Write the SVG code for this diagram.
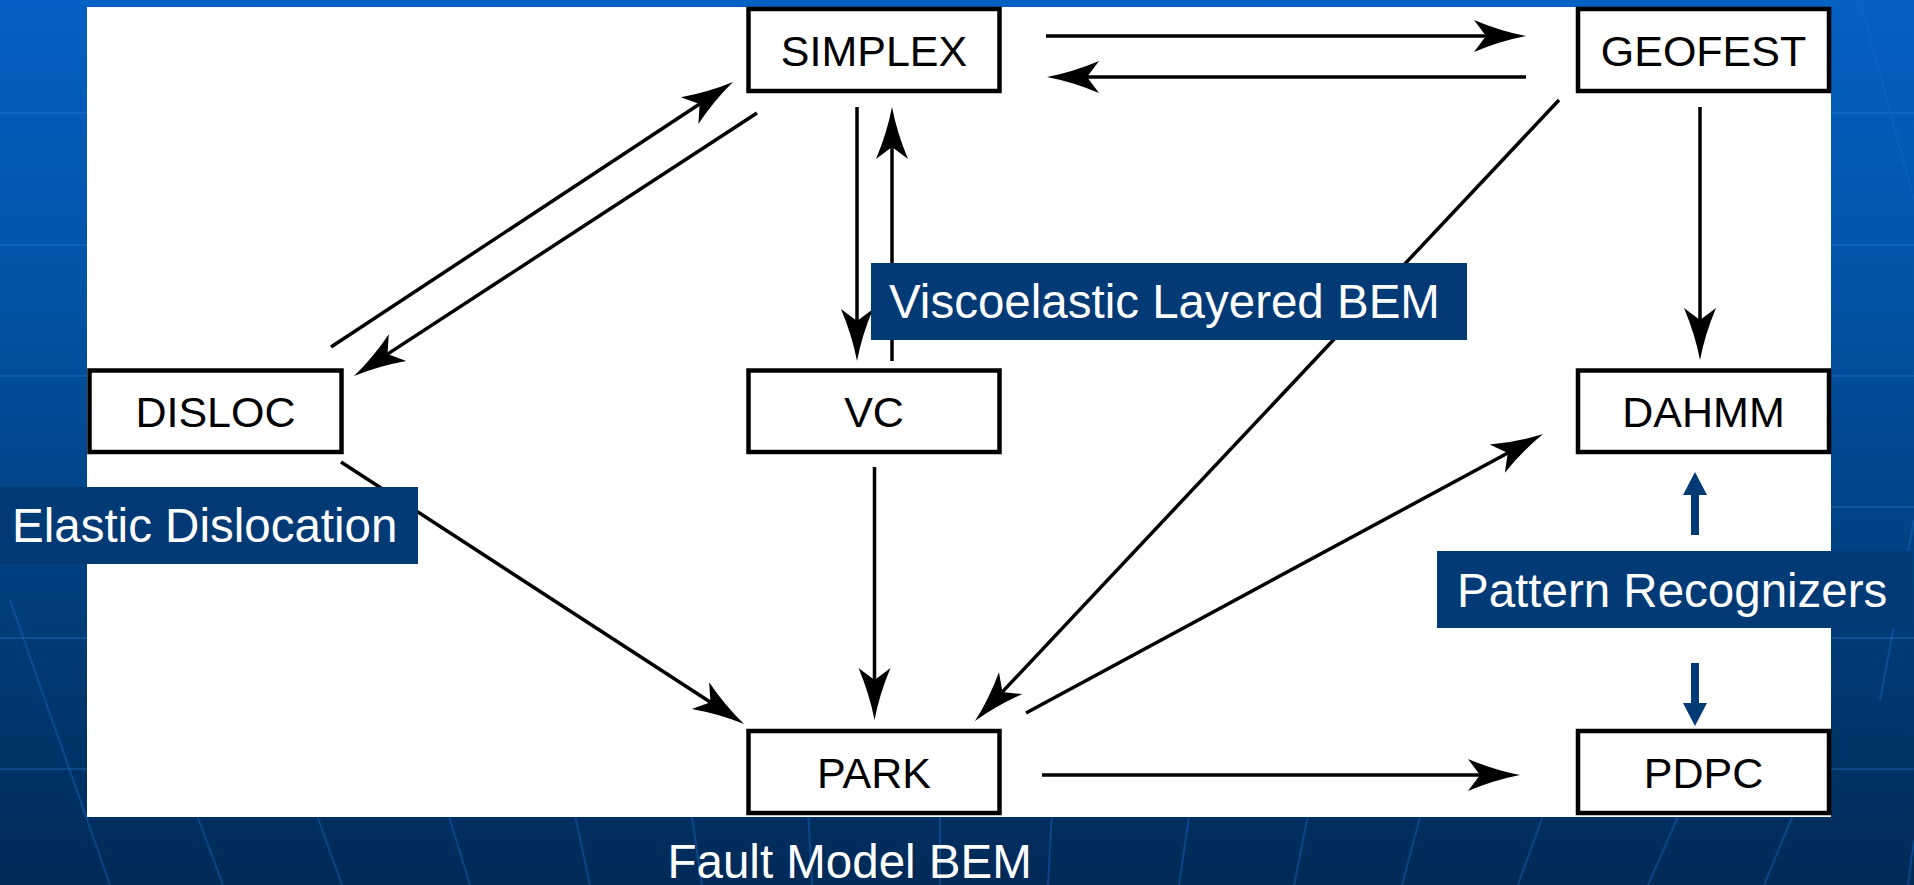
<svg xmlns="http://www.w3.org/2000/svg" width="1914" height="885" viewBox="0 0 1914 885">
  <defs>
    <linearGradient id="bg" x1="0" y1="0" x2="0" y2="1">
      <stop offset="0" stop-color="#0561c3"/>
      <stop offset="0.34" stop-color="#0352a5"/>
      <stop offset="0.66" stop-color="#003f7d"/>
      <stop offset="1" stop-color="#002a57"/>
    </linearGradient>
    <marker id="ah" markerUnits="userSpaceOnUse" markerWidth="56" markerHeight="36" viewBox="-14 -18 56 36" refX="0" refY="0" orient="auto" overflow="visible">
      <path d="M40,0 Q14,-5 -12,-16 L0,0 L-12,16 Q14,5 40,0 Z" fill="#000"/>
    </marker>
    <style>
      .node rect { fill: #fff; stroke: #000; stroke-width: 4.5; }
      .node text { font-family: "Liberation Sans", Arial, sans-serif; font-size: 43px; fill: #000; text-anchor: middle; }
      .conn line { stroke: #000; stroke-width: 3.5; fill: none; marker-end: url(#ah); }
      .label rect { fill: #023a76; }
      .label text, .caption { font-family: "Liberation Sans", Arial, sans-serif; font-size: 47.5px; fill: #fff; }
      .hline { stroke: #2f8ae6; stroke-opacity: 0.25; stroke-width: 2; }
      .mer { stroke: #1468c4; stroke-opacity: 0.45; stroke-width: 2; fill: none; }
      .blue { fill: #023a76; }
    </style>
  </defs>

  <!-- background -->
  <rect x="0" y="0" width="1914" height="885" fill="url(#bg)"/>
  <g id="bg-lines">
    <line class="hline" x1="0" y1="113" x2="1914" y2="113"/>
    <line class="hline" x1="0" y1="245" x2="1914" y2="245"/>
    <line class="hline" x1="0" y1="376" x2="1914" y2="376"/>
    <line class="hline" x1="0" y1="507" x2="1914" y2="507"/>
    <line class="hline" x1="0" y1="638" x2="1914" y2="638"/>
    <line class="hline" x1="0" y1="769" x2="1914" y2="769"/>
    <path class="mer" d="M10,600 L110,885" stroke-opacity="0.25"/>
    <path class="mer" d="M1860,0 L1914,200" stroke-opacity="0.25"/>
    <path class="mer" d="M1914,520 L1880,700" stroke-opacity="0.2"/>
    <line class="mer" x1="195" y1="810" x2="223" y2="885"/>
    <line class="mer" x1="315" y1="810" x2="342" y2="885"/>
    <line class="mer" x1="447" y1="810" x2="470" y2="885"/>
    <line class="mer" x1="574" y1="810" x2="590" y2="885"/>
    <line class="mer" x1="691" y1="810" x2="702" y2="885"/>
    <line class="mer" x1="808" y1="810" x2="812" y2="885"/>
    <line class="mer" x1="940" y1="810" x2="940" y2="885"/>
    <line class="mer" x1="1052" y1="810" x2="1048" y2="885"/>
    <line class="mer" x1="1190" y1="810" x2="1179" y2="885"/>
    <line class="mer" x1="1309" y1="810" x2="1294" y2="885"/>
    <line class="mer" x1="1422" y1="810" x2="1402" y2="885"/>
    <line class="mer" x1="1545" y1="810" x2="1518" y2="885"/>
    <line class="mer" x1="1681" y1="810" x2="1648" y2="885"/>
    <line class="mer" x1="1795" y1="810" x2="1764" y2="885"/>
    <line class="mer" x1="1914" y1="840" x2="1908" y2="885" stroke-opacity="0.25"/>
  </g>

  <!-- white panel -->
  <rect x="87" y="7" width="1744" height="810" fill="#fff"/>

  <!-- connectors -->
  <g id="connectors" class="conn">
    <line x1="1046" y1="36" x2="1486" y2="36"/>
    <line x1="1526" y1="77" x2="1087" y2="77"/>
    <line x1="757" y1="113" x2="387.5" y2="354.1"/>
    <line x1="331" y1="347" x2="699.6" y2="104"/>
    <line x1="857" y1="107" x2="857" y2="321"/>
    <line x1="892" y1="361" x2="892" y2="147"/>
    <line x1="1559" y1="100" x2="1002.4" y2="691.9"/>
    <line x1="1700" y1="107" x2="1700" y2="320"/>
    <line x1="341" y1="462" x2="710.5" y2="702.2"/>
    <line x1="874.5" y1="467" x2="874.5" y2="680"/>
    <line x1="1026" y1="713" x2="1507.8" y2="453"/>
    <line x1="1042" y1="775" x2="1480" y2="775"/>
  </g>

  <!-- nodes -->
  <g id="node-simplex" class="node">
    <rect x="748.5" y="9" width="251" height="82"/>
    <text x="874" y="66">SIMPLEX</text>
  </g>
  <g id="node-geofest" class="node">
    <rect x="1578" y="9" width="251" height="82"/>
    <text x="1703.5" y="66">GEOFEST</text>
  </g>
  <g id="node-disloc" class="node">
    <rect x="89.5" y="370.5" width="252" height="81.5"/>
    <text x="215.5" y="427">DISLOC</text>
  </g>
  <g id="node-vc" class="node">
    <rect x="748.5" y="370.5" width="251" height="81.5"/>
    <text x="874" y="427">VC</text>
  </g>
  <g id="node-dahmm" class="node">
    <rect x="1578" y="370.5" width="251" height="81.5"/>
    <text x="1703.5" y="427">DAHMM</text>
  </g>
  <g id="node-park" class="node">
    <rect x="748.5" y="731" width="251" height="82"/>
    <text x="874" y="788">PARK</text>
  </g>
  <g id="node-pdpc" class="node">
    <rect x="1578" y="731" width="251" height="82"/>
    <text x="1703.5" y="788">PDPC</text>
  </g>

  <!-- labels -->
  <g id="label-visco" class="label">
    <rect x="871" y="263" width="596" height="77"/>
    <text x="889" y="318">Viscoelastic Layered BEM</text>
  </g>
  <g id="label-elastic" class="label">
    <rect x="0" y="487" width="418" height="77"/>
    <text x="12" y="542">Elastic Dislocation</text>
  </g>
  <g id="label-pattern" class="label">
    <rect x="1437" y="551" width="475" height="77"/>
    <text x="1457" y="607">Pattern Recognizers</text>
  </g>
  <g id="pattern-arrows">
    <rect class="blue" x="1691" y="492" width="8" height="43"/>
    <polygon class="blue" points="1695,472 1707,495 1683,495"/>
    <rect class="blue" x="1691" y="663" width="8" height="42"/>
    <polygon class="blue" points="1683,703 1707,703 1695,726"/>
  </g>
  <text id="label-fault" class="caption" x="667.5" y="878">Fault Model BEM</text>
</svg>
